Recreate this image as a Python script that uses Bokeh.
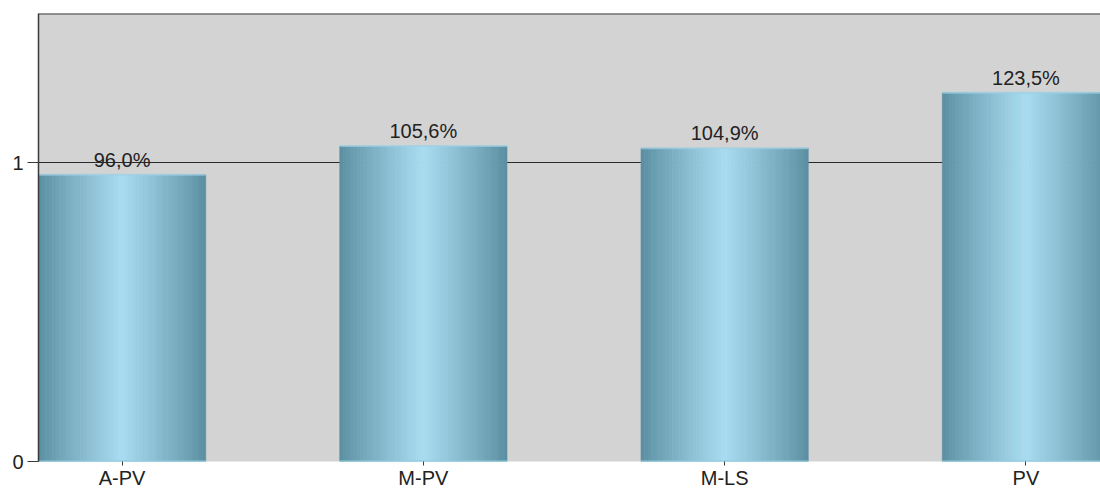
from bokeh.plotting import figure
from bokeh.models import Range1d, FixedTicker, Span, ColumnDataSource, CustomJSTickFormatter
from bokeh.core.properties import value
from bokeh.embed import file_html
from bokeh.resources import INLINE

# ---- data ----
categories = ["A-PV", "M-PV", "M-LS", "PV"]
values = [0.960, 1.056, 1.049, 1.235]
labels = [f"{v * 100:.1f}%".replace(".", ",") for v in values]
y_ticks = [0, 1]

# ---- style ----
FONT = "Liberation Sans"
BAR_W = 0.555
N_STRIPS = 48
EDGE = (90, 142, 160)
MID = (170, 220, 242)

def mix(t):
    r = tuple(int(round(EDGE[k] + (MID[k] - EDGE[k]) * t)) for k in range(3))
    return "#%02x%02x%02x" % r

p = figure(width=1100, height=491, output_backend="svg", toolbar_location=None,
           x_range=Range1d(-0.2774, 3.2475), y_range=Range1d(0, 1.5),
           min_border_left=38, min_border_right=0, min_border_top=13, min_border_bottom=28)
p.background_fill_color = "#d3d3d3"
p.border_fill_color = "white"
p.outline_line_color = None

# gradient bars as thin strips
xs, tops, cols = [], [], []
for i, v in enumerate(values):
    for j in range(N_STRIPS):
        f = (j + 0.5) / N_STRIPS
        t = 1 - abs(2 * f - 1.0)
        t = t ** 0.9
        xs.append(i - BAR_W / 2 + f * BAR_W)
        tops.append(v)
        cols.append(mix(t))
src = ColumnDataSource(dict(x=xs, top=tops, color=cols))
p.vbar(x="x", top="top", bottom=0, width=BAR_W / N_STRIPS * 1.05, source=src,
       fill_color="color", line_color="color", line_width=0.5)

# top highlight and bottom light line
idx = list(range(len(values)))
p.segment(x0=[i - BAR_W / 2 for i in idx], x1=[i + BAR_W / 2 for i in idx],
          y0=values, y1=values, line_color="#9fd0e2", line_width=2, line_alpha=0.7)
p.segment(x0=[i - BAR_W / 2 for i in idx], x1=[i + BAR_W / 2 for i in idx],
          y0=[0] * 4, y1=[0] * 4, line_color="#8ccbe0", line_width=2)

# value labels
p.text(x=idx, y=values, text=labels, text_align="center", text_baseline="alphabetic",
       y_offset=-15, text_font=value(FONT), text_font_size="20px", text_color="#222222")

# top frame line
p.add_layout(Span(location=1.5, dimension="width", line_color="#404040", line_width=2))

# axes
p.xaxis.ticker = FixedTicker(ticks=idx)
p.xaxis.formatter = CustomJSTickFormatter(args=dict(cats=categories),
                                          code="return cats[Math.round(tick)];")
p.yaxis.ticker = FixedTicker(ticks=y_ticks)
for ax in (p.xaxis, p.yaxis):
    ax.axis_line_color = "#3a3a3a"
    ax.axis_line_width = 1.5
    ax.major_tick_line_color = "#3a3a3a"
    ax.major_tick_in = 0
    ax.minor_tick_line_color = None
    ax.major_label_text_font = FONT
    ax.major_label_text_font_size = "20px"
    ax.major_label_text_color = "#222222"
p.xaxis.axis_line_color = None
p.xaxis.major_tick_out = 4
p.xaxis.major_label_standoff = 1
p.yaxis.major_tick_out = 11
p.yaxis.major_label_standoff = 4

p.xgrid.grid_line_color = None
p.ygrid.ticker = FixedTicker(ticks=[0, 1])
p.ygrid.grid_line_color = "#2a2a2a"
p.ygrid.grid_line_width = 1.2

open("out.html", "w").write(file_html(p, INLINE))
